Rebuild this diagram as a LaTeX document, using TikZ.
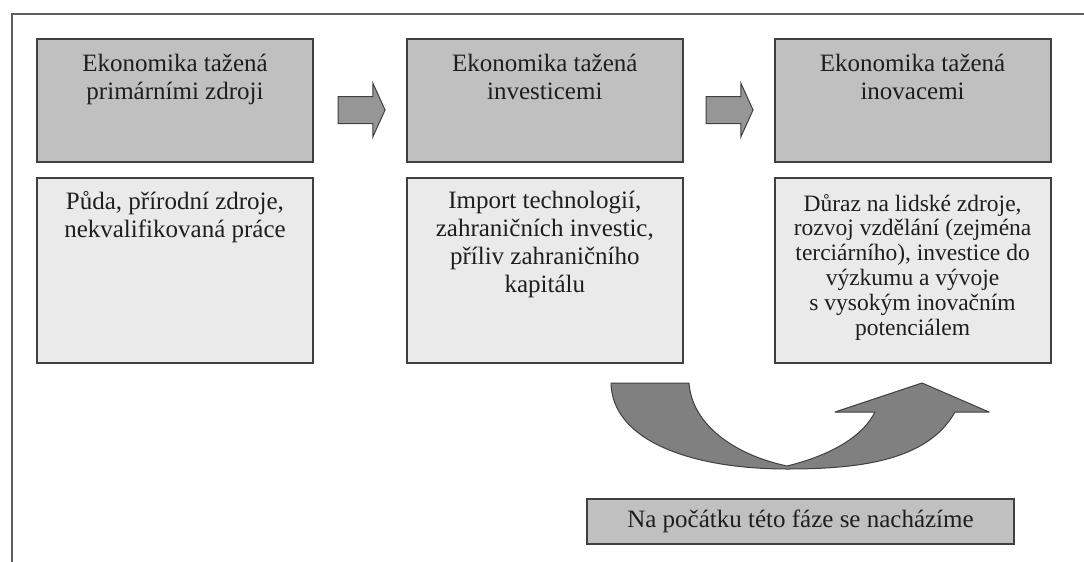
\documentclass[tikz,border=0pt]{standalone}
\usepackage{fontspec}
\setmainfont{Liberation Serif}
\usetikzlibrary{positioning,shapes.arrows}
\definecolor{phasegray}{RGB}{192,192,192}
\definecolor{notegray}{RGB}{234,234,234}
\definecolor{edgegray}{RGB}{64,64,64}
\definecolor{framegray}{RGB}{95,95,95}
\definecolor{arrowgray}{RGB}{150,150,150}
\definecolor{bendgray}{RGB}{128,128,128}
\definecolor{inkgray}{RGB}{30,30,30}

\begin{document}
\begin{tikzpicture}[x=1pt, y=-1pt,
	phase/.style={draw=edgegray, line width=1.8pt, fill=phasegray, minimum width=276pt, minimum height=123pt, inner sep=0pt},
	note/.style={draw=edgegray, line width=1.8pt, fill=notegray, minimum width=276pt, minimum height=185pt, inner sep=0pt},
	label text/.style={align=center, inner sep=0pt, text=inkgray, font=\fontsize{25}{28}\selectfont},
	small text/.style={align=center, inner sep=0pt, text=inkgray, font=\fontsize{23.5}{24.8}\selectfont},
	block arrow/.style={single arrow, draw=edgegray, line width=1pt, fill=arrowgray, minimum height=47pt, inner xsep=0pt, inner ysep=13pt, single arrow head extend=13.5pt, single arrow tip angle=131}]
	\useasboundingbox (0,0) rectangle (1084,562);
	\draw[framegray, line width=2pt] (12,562) -- (12,14) -- (1084,14);

	\node[phase] (prim) at (175,100.5) {};
	\node[phase, right=92pt of prim] (inv) {};
	\node[phase, right=90pt of inv] (inov) {};
	\node[note, below=14pt of prim] (primnote) {};
	\node[note, below=14pt of inv] (invnote) {};
	\node[note, below=14pt of inov] (inovnote) {};

	\node[label text, below=16pt of prim.north] (primtxt) {Ekonomika tažená\\primárními zdroji};
	\node[label text, below=16pt of inv.north] (invtxt) {Ekonomika tažená\\investicemi};
	\node[label text, below=16pt of inov.north] (inovtxt) {Ekonomika tažená\\inovacemi};
	\node[label text, below=14pt of primnote.north] (primnotetxt) {Půda, přírodní zdroje,\\nekvalifikovaná práce};
	\node[label text, below=14pt of invnote.north] (invnotetxt) {Import technologií,\\zahraničních investic,\\příliv zahraničního\\kapitálu};
	\node[small text, below=17pt of inovnote.north] (inovnotetxt) {Důraz na lidské zdroje,\\rozvoj vzdělání (zejména\\terciárního), investice do\\výzkumu a vývoje\\s~vysokým inovačním\\potenciálem};

	\node[block arrow] (go1) at (358.5,110) {};
	\node[block arrow] (go2) at (726.5,110) {};

	% curved arrow
	\draw[edgegray, line width=1pt, fill=bendgray, line join=round] (611,383) -- (689,383) .. controls (692,425) and (735,455) .. (787,466) .. controls (828,456) and (862,438) .. (875,412) -- (835,412) -- (922,383) -- (989,412) -- (955,412) .. controls (928,460) and (862,469) .. (787,469) .. controls (690,469) and (612,440) .. (611,383) -- cycle;

	\node[draw=edgegray, line width=1.8pt, fill=phasegray, minimum width=427pt, minimum height=45pt, inner sep=0pt, text=inkgray, font=\fontsize{25}{28}\selectfont] (now) at (800.5,521.5) {Na počátku této fáze se nacházíme};
\end{tikzpicture}
\end{document}
